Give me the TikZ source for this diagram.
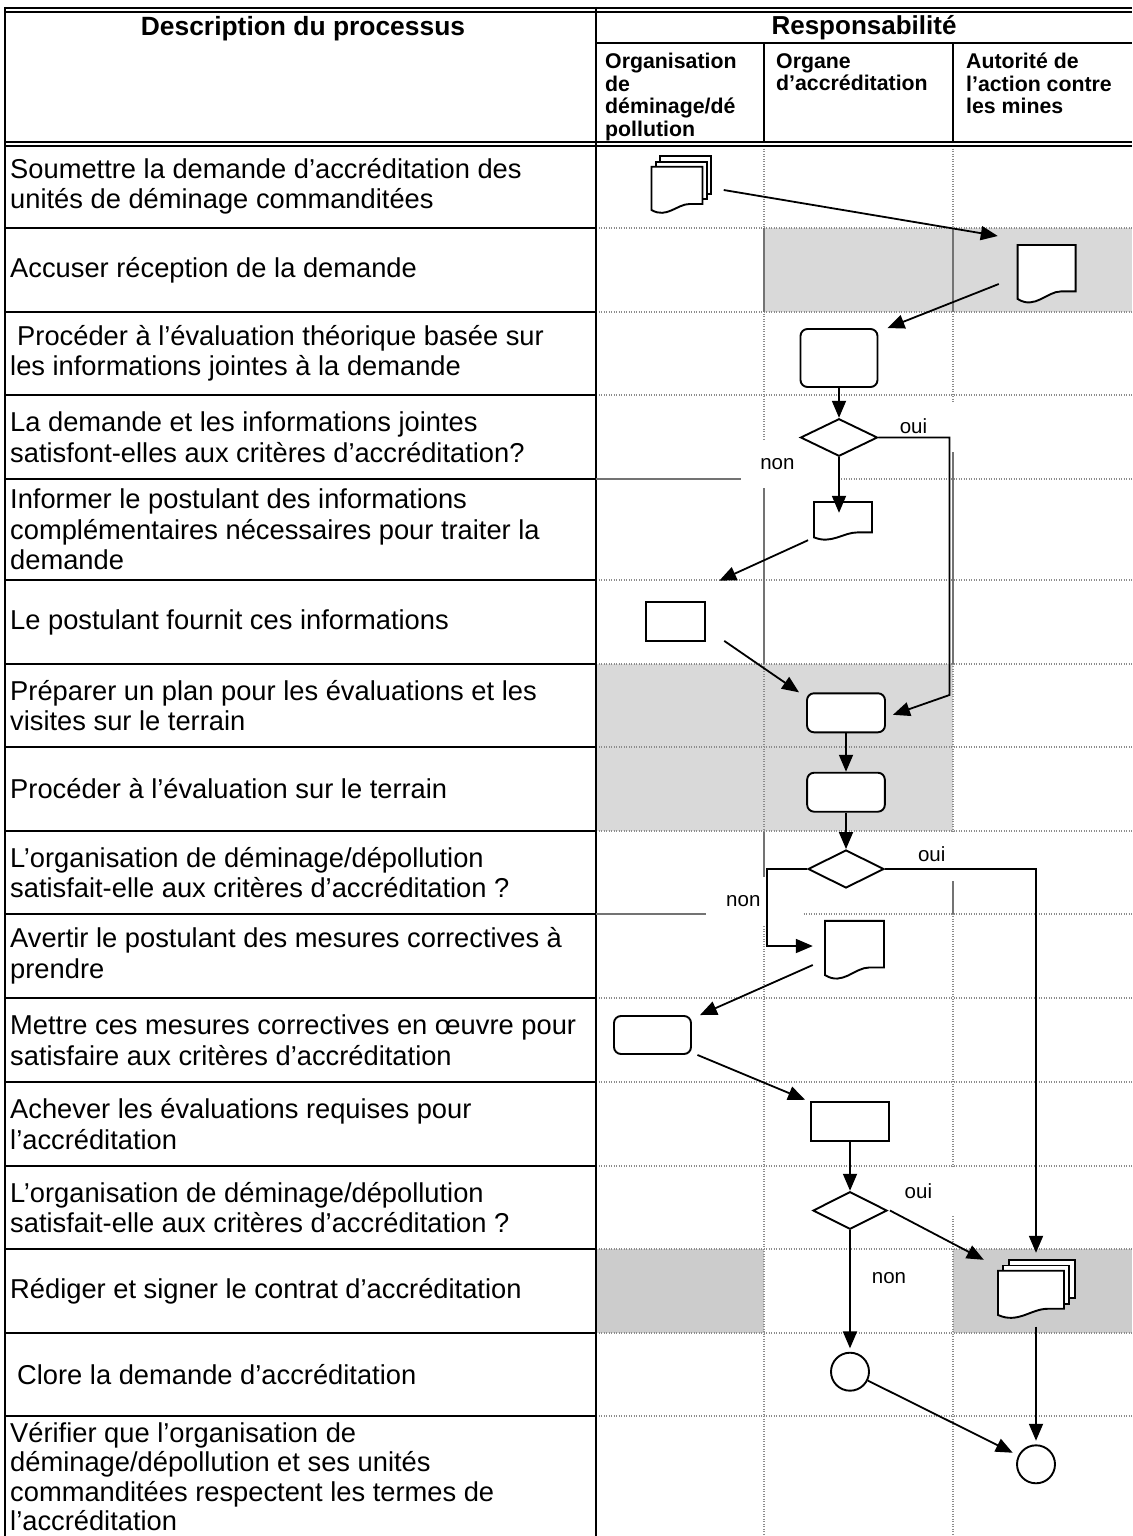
\documentclass[tikz,border=0pt]{standalone}
\usepackage{fontspec}
\setmainfont{Liberation Sans}
\usetikzlibrary{arrows.meta,calc,shapes.geometric}

\definecolor{shadeA}{HTML}{D9D9D9}
\definecolor{shadeB}{HTML}{CCCCCC}
\definecolor{gridgray}{HTML}{8C8C8C}

\tikzset{
  shp/.style={draw=black, line width=1.9pt, fill=white, inner sep=0pt},
  procbox/.style={shp, rectangle, rounded corners=7pt},
  plainbox/.style={shp, rectangle},
  decision/.style={shp, diamond},
  endpoint/.style={shp, circle, minimum size=38pt},
  docbox/.style={rectangle, inner sep=0pt},
  flow/.style={line width=1.8pt, -{Triangle[length=17pt,width=14pt]}},
  rowline/.style={black, line width=2pt},
  dotgrid/.style={gridgray, line width=1.4pt, dash pattern=on 1.4pt off 1.1pt},
  solidgrid/.style={black!55, line width=2pt},
  desc/.style={anchor=west, align=left, inner sep=0pt, font=\fontsize{27.3}{30.5}\selectfont},
  colhead/.style={anchor=north west, align=left, inner sep=0pt, font=\fontsize{21.3}{22.5}\selectfont\bfseries},
  lbl/.style={anchor=base, inner sep=0pt, font=\fontsize{20.5}{22}\selectfont},
}

\newcommand{\docpage}[3]{%
  \begin{scope}[shift={(#1.center)}, x=#2pt, y=-#3pt]
    \draw[shp] (-0.5,-0.5) -- (0.5,-0.5) -- (0.5,0.3) -- (0.25,0.3)
      .. controls (0,0.3) and (-0.2,0.62) .. (-0.5,0.43) -- cycle;
  \end{scope}}
\newcommand{\docstack}[3]{%
  \begin{scope}[shift={(#1.center)}, x=#2pt, y=-#3pt]
    \draw[shp] (-0.34,-0.72) rectangle (0.66,0.08);
    \draw[shp] (-0.42,-0.61) rectangle (0.58,0.19);
  \end{scope}
  \docpage{#1}{#2}{#3}}

\begin{document}
\begin{tikzpicture}[x=1pt,y=-1pt]
\useasboundingbox (0,0) rectangle (1132,1536);

\fill[shadeA] (764,228) rectangle (1132,312);
\fill[shadeA] (596,664) rectangle (953,831);
\fill[shadeB] (596,1249) rectangle (764,1333);
\fill[shadeB] (953,1249) rectangle (1132,1333);

\foreach \yy in {228,312,395,479,580,664,747,831,914,998,1082,1166,1249,1333,1416}{
  \draw[rowline] (5,\yy) -- (596,\yy);
  \draw[dotgrid] (596,\yy) -- (1132,\yy);}
\foreach \xx in {764,953}
  \draw[dotgrid] (\xx,146) -- (\xx,1536);

\draw[line width=1.3pt] (4,8) -- (1132,8) (4,12) -- (1132,12)
                        (4,142) -- (1132,142) (4,146) -- (1132,146);
\draw[line width=2.5pt] (5,7) -- (5,1536);
\draw[line width=2pt] (596,7) -- (596,1536);
\draw[line width=2pt] (596,43) -- (1132,43) (764,43) -- (764,142) (953,43) -- (953,142);

\fill[white] (741,440) rectangle (837,488);
\fill[white] (880,402) rectangle (960,452);
\fill[white] (706,877) rectangle (803,925);
\fill[white] (895,833) rectangle (960,880);
\fill[white] (890,1168) rectangle (960,1216);

\draw[solidgrid] (764,228) -- (764,312) (953,228) -- (953,312);
\draw[solidgrid] (596,479) -- (741,479) (764,488) -- (764,664) (953,452) -- (953,664);
\draw[solidgrid] (764,832) -- (764,877) (953,881) -- (953,914) (596,914) -- (706,914);

\node[anchor=base, inner sep=0pt, font=\fontsize{26.4}{28}\selectfont\bfseries] (hdesc) at (303,36) {Description du processus};
\node[anchor=base, inner sep=0pt, font=\fontsize{26}{28}\selectfont\bfseries] (hresp) at (864,35) {Responsabilité};
\node[colhead] (horg) at (605,53) {Organisation\\de\\déminage/dé\\pollution};
\node[colhead] (horgane) at (776,53) {Organe\\d’accréditation};
\node[colhead] (haut) at (966,53) {Autorité de\\l’action contre\\les mines};

\node[desc] (d1) at (10,186.5) {Soumettre la demande d’accréditation des\\unités de déminage commanditées};
\node[desc] (d2) at (10,270) {Accuser réception de la demande};
\node[desc] (d3) at (10,353.5) {\hspace*{7pt}Procéder à l’évaluation théorique basée sur\\les informations jointes à la demande};
\node[desc] (d4) at (10,437) {La demande et les informations jointes\\satisfont-elles aux critères d’accréditation?};
\node[desc] (d5) at (10,529.5) {Informer le postulant des informations\\complémentaires nécessaires pour traiter la\\demande};
\node[desc] (d6) at (10,622) {Le postulant fournit ces informations};
\node[desc] (d7) at (10,705.5) {Préparer un plan pour les évaluations et les\\visites sur le terrain};
\node[desc] (d8) at (10,789) {Procéder à l’évaluation sur le terrain};
\node[desc] (d9) at (10,872.5) {L’organisation de déminage/dépollution\\satisfait-elle aux critères d’accréditation ?};
\node[desc] (d10) at (10,956) {Avertir le postulant des mesures correctives à\\prendre};
\node[desc] (d11) at (10,1040) {Mettre ces mesures correctives en œuvre pour\\satisfaire aux critères d’accréditation};
\node[desc] (d12) at (10,1124) {Achever les évaluations requises pour\\l’accréditation};
\node[desc] (d13) at (10,1207.5) {L’organisation de déminage/dépollution\\satisfait-elle aux critères d’accréditation ?};
\node[desc] (d14) at (10,1291) {Rédiger et signer le contrat d’accréditation};
\node[desc] (d15) at (10,1374.5) {\hspace*{7pt}Clore la demande d’accréditation};
\node[desc, anchor=north west, font=\fontsize{27.3}{29.5}\selectfont] (d16) at (10,1422) {Vérifier que l’organisation de\\déminage/dépollution et ses unités\\commanditées respectent les termes de\\l’accréditation};

\node[docbox, minimum width=51pt, minimum height=46.6pt] (sub) at (677,190) {};
\docstack{sub}{51}{46.6}
\node[docbox, minimum width=58pt, minimum height=58pt] (rec) at (1046.6,274) {};
\docpage{rec}{58}{58}
\node[procbox, minimum width=77pt, minimum height=58pt] (eval) at (839,358) {};
\node[decision, minimum width=77pt, minimum height=37.5pt] (q1) at (839,437.5) {};
\node[docbox, minimum width=58pt, minimum height=38pt] (info) at (843,521) {};
\docpage{info}{58}{38}
\node[plainbox, minimum width=58.8pt, minimum height=39.3pt] (fourn) at (675.4,621.3) {};
\node[procbox, minimum width=78pt, minimum height=39pt] (plan) at (846,712.8) {};
\node[procbox, minimum width=77.7pt, minimum height=39pt] (terr) at (846,792.2) {};
\node[decision, minimum width=76pt, minimum height=38pt] (q2) at (846,869) {};
\node[docbox, minimum width=59pt, minimum height=58.3pt] (avert) at (854.5,950) {};
\docpage{avert}{59}{58.3}
\node[procbox, minimum width=77pt, minimum height=38pt] (corr) at (652.5,1035) {};
\node[plainbox, minimum width=78pt, minimum height=39pt] (achev) at (850,1121.2) {};
\node[decision, minimum width=74pt, minimum height=37.6pt] (q3) at (850,1210.5) {};
\node[docbox, minimum width=66pt, minimum height=47.6pt] (contrat) at (1031,1294.5) {};
\docstack{contrat}{66}{47.6}
\node[endpoint] (clore) at (850,1371.7) {};
\node[endpoint] (verif) at (1036,1464.3) {};

\coordinate (ouibend1) at (949.5,695);
\coordinate (nonbend2) at (767,946);
\coordinate (ouibend2) at (1036,869);

\draw[flow] ([xshift=21pt]sub.east) -- ([xshift=-19.6pt,yshift=38pt]rec.west);
\draw[flow] ([xshift=-18.6pt,yshift=-10pt]rec.west) -- ([xshift=9pt]eval.north east);
\draw[flow] (eval.south) -- (q1.north);
\draw[flow] (q1.south) -- ([yshift=-11pt]q1.south |- info.north);
\draw[flow] (q1.east) -- (q1.east -| ouibend1) -- (ouibend1) -- ([xshift=7pt,yshift=-2pt]plan.east);
\draw[flow] ([xshift=-5.7pt]info.south west) -- ([xshift=13.5pt,yshift=20pt]fourn.north east);
\draw[flow] ([xshift=18.5pt,yshift=1pt]fourn.south east) -- ([xshift=-7pt]plan.north west);
\draw[flow] (plan.south) -- (terr.north);
\draw[flow] (terr.south) -- (q2.north);
\draw[flow] (q2.west) -- (q2.west -| nonbend2) -- (nonbend2) -- ([xshift=-12pt]avert.west |- nonbend2);
\draw[flow] (q2.east) -- (ouibend2) -- ([yshift=17.7pt]ouibend2 |- contrat.north);
\draw[flow] ([xshift=-12pt,yshift=-15pt]avert.west) -- ([xshift=8pt]corr.north east);
\draw[flow] ([xshift=5.5pt]corr.south east) -- ([xshift=-5pt,yshift=1pt]achev.north west);
\draw[flow] (achev.south) -- (q3.north);
\draw[flow] ([xshift=2pt]q3.east) -- ([xshift=-14pt,yshift=10.7pt]contrat.north west);
\draw[flow] (q3.south) -- ([yshift=3.4pt]clore.north);
\draw[flow] ([yshift=-8pt]verif.north |- contrat.south) -- ([yshift=3.6pt]verif.north);
\draw[flow, shorten >=6pt] (clore) -- (verif);

\node[lbl] (oui1) at (913.5,433) {oui};
\node[lbl] (non1) at (777.4,469.3) {non};
\node[lbl] (oui2) at (931.7,861.7) {oui};
\node[lbl] (non2) at (743.3,906.7) {non};
\node[lbl] (oui3) at (918.4,1198.3) {oui};
\node[lbl] (non3) at (889,1283.3) {non};
\end{tikzpicture}
\end{document}
